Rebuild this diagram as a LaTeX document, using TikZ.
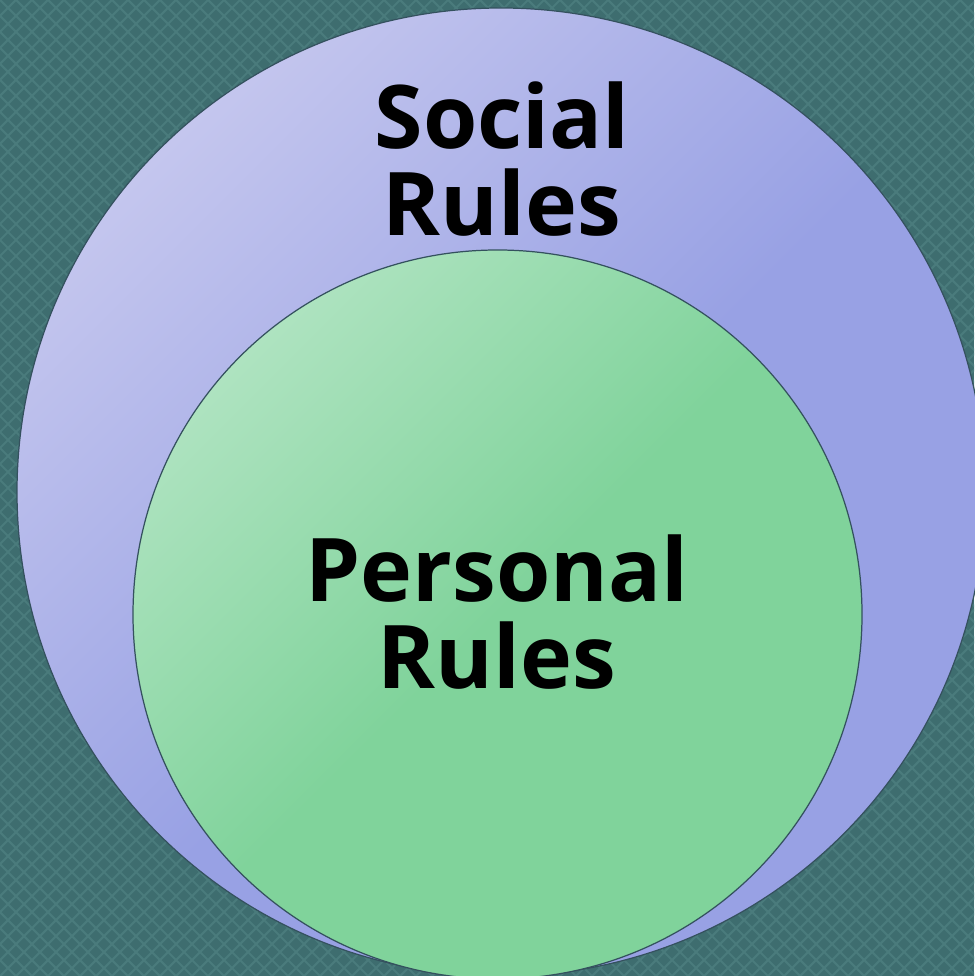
\documentclass[tikz,border=0pt]{standalone}
\usepackage{fontspec}
\setmainfont{Open Sans}
\definecolor{bgteal}{HTML}{3E6D6F}
\definecolor{bgtealhi}{HTML}{4A7B7C}
\definecolor{socialhi}{HTML}{C4C6EE}
\definecolor{sociallo}{HTML}{98A1E4}
\definecolor{personalhi}{HTML}{AEE3C0}
\definecolor{personallo}{HTML}{80D39B}
\definecolor{rimline}{HTML}{34515E}
\pgfdeclarehorizontalshading{socialfade}{100bp}{color(0bp)=(socialhi); color(25bp)=(socialhi); color(52bp)=(sociallo); color(100bp)=(sociallo)}
\pgfdeclarehorizontalshading{personalfade}{100bp}{color(0bp)=(personalhi); color(25bp)=(personalhi); color(50bp)=(personallo); color(100bp)=(personallo)}

\begin{document}
\begin{tikzpicture}[x=0.1mm, y=-0.1mm,
rulering/.style={draw=rimline, line width=0.35pt, shade, shading angle=-45},
rulelabel/.style={align=center, inner sep=0pt, text=black,
  font=\fontsize{25}{25}\selectfont\bfseries}]

\useasboundingbox (0,0) rectangle (974,976);
\fill[bgteal] (0,0) rectangle (974,976);
\begin{scope}
\clip (0,0) rectangle (974,976);
\foreach \k in {-976,-960,...,974}{
  \draw[bgtealhi, line width=0.6pt] (\k,0) -- ++(976,976);
  \draw[bgtealhi, line width=0.6pt] (\k,976) -- ++(976,-976);
}
\end{scope}

\coordinate (socialc) at (501,492);
\coordinate (personalc) at (497.5,614.5);

\path[rulering, shading=socialfade] (socialc) circle [radius=484];
\path[rulering, shading=personalfade] (personalc) circle [radius=364.5];

\node[rulelabel] (social) at (502,159) {Social\\Rules};
\node[rulelabel] (personal) at (497,612) {Personal\\Rules};

\end{tikzpicture}
\end{document}
